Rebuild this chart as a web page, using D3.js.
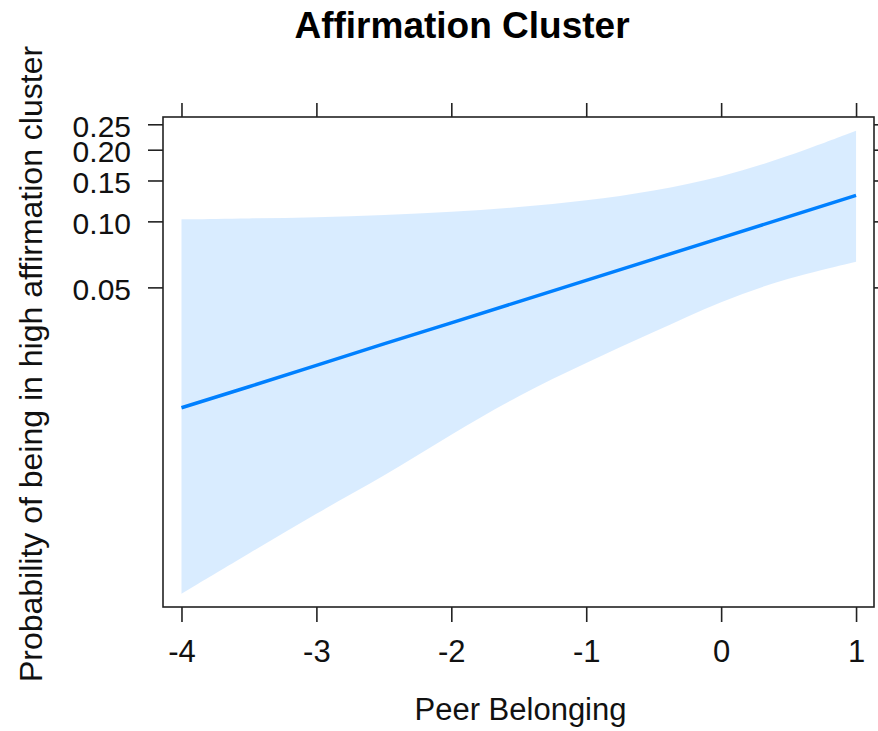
<!DOCTYPE html>
<html lang="en">
<head>
  <meta charset="UTF-8" />
  <title>Affirmation Cluster</title>
  <script src="https://d3js.org/d3.v7.min.js"></script>
  <style>
    html, body {
      margin: 0;
      padding: 0;
      background: #fff;
      overflow: hidden;
    }
    svg {
      display: block;
      font-family: "Liberation Sans", Arial, sans-serif;
    }
    .axis path, .axis line {
      stroke: #222;
      stroke-width: 1.6;
    }
    .axis text {
      font-size: 30px;
      fill: #111;
    }
  </style>
</head>
<body>
<svg width="878" height="731"></svg>

<script>
// values (probability scale, logit axis)
const xVals = [-4, -3.5, -3, -2.5, -2, -1.5, -1, -0.5, 0, 0.5, 1];
const fitVals = [0.0133, 0.0168, 0.0213, 0.0270, 0.0340, 0.0429, 0.0539, 0.0676, 0.0844, 0.1049, 0.1298];
const lowerVals = [0.00164, 0.00258, 0.00407, 0.00615, 0.00988, 0.01530, 0.02198, 0.03071, 0.04325, 0.05553, 0.0657];
const upperVals = [0.1021, 0.1030, 0.1042, 0.1066, 0.1099, 0.1152, 0.1228, 0.1354, 0.1543, 0.1883, 0.2366];

const xTicks = [-4, -3, -2, -1, 0, 1];
const yTicks = [0.05, 0.10, 0.15, 0.20, 0.25];
const yTickLabels = ["0.05", "0.10", "0.15", "0.20", "0.25"];

const xLimits = [-4.137, 1.133];
const yLimits = [0.001411, 0.2658];

const title = "Affirmation Cluster";
const xLabel = "Peer Belonging";
const yLabel = "Probability of being in high affirmation cluster";

const logit = p => Math.log(p / (1 - p));

const box = { left: 163, right: 874, top: 117, bottom: 607 };

const svg = d3.select("svg");

const x = d3.scaleLinear().domain(xLimits).range([box.left, box.right]);
const y = d3.scaleLinear().domain(yLimits.map(logit)).range([box.bottom, box.top]);

const rows = xVals.map((d, i) => ({ x: d, fit: fitVals[i], lo: lowerVals[i], hi: upperVals[i] }));

// confidence band
svg.append("path")
  .datum(rows)
  .attr("fill", "#0080ff")
  .attr("fill-opacity", 0.15)
  .attr("d", d3.area()
    .curve(d3.curveBasis)
    .x(d => x(d.x))
    .y0(d => y(logit(d.lo)))
    .y1(d => y(logit(d.hi))));

// fitted line
svg.append("path")
  .datum(rows)
  .attr("fill", "none")
  .attr("stroke", "#0080ff")
  .attr("stroke-width", 3.5)
  .attr("d", d3.line()
    .x(d => x(d.x))
    .y(d => y(logit(d.fit))));

// axes
svg.append("g")
  .attr("class", "axis")
  .attr("transform", `translate(0,${box.bottom})`)
  .call(d3.axisBottom(x).tickValues(xTicks).tickFormat(d => String(d))
    .tickSize(15).tickPadding(18).tickSizeOuter(0))
  .call(g => g.select(".domain").remove())
  .call(g => g.selectAll("text").style("font-size", "31px"));

svg.append("g")
  .attr("class", "axis")
  .attr("transform", `translate(0,${box.top})`)
  .call(d3.axisTop(x).tickValues(xTicks).tickSize(14).tickFormat("").tickSizeOuter(0))
  .call(g => g.select(".domain").remove());

svg.append("g")
  .attr("class", "axis")
  .attr("transform", `translate(${box.left},0)`)
  .call(d3.axisLeft(y).tickValues(yTicks.map(logit)).tickFormat((d, i) => yTickLabels[i])
    .tickSize(15).tickPadding(17).tickSizeOuter(0))
  .call(g => g.select(".domain").remove())
  .call(g => g.selectAll("text").attr("dy", "0.4em"));

svg.append("g")
  .attr("class", "axis")
  .attr("transform", `translate(${box.right},0)`)
  .call(d3.axisRight(y).tickValues(yTicks.map(logit)).tickFormat("").tickSize(14).tickSizeOuter(0))
  .call(g => g.select(".domain").remove());

// panel border
svg.append("rect")
  .attr("x", box.left)
  .attr("y", box.top)
  .attr("width", box.right - box.left)
  .attr("height", box.bottom - box.top)
  .attr("fill", "none")
  .attr("stroke", "#222")
  .attr("stroke-width", 1.6);

// labels
svg.append("text")
  .attr("x", 462)
  .attr("y", 38)
  .attr("text-anchor", "middle")
  .attr("font-size", 37)
  .attr("font-weight", "bold")
  .attr("fill", "#000")
  .text(title);

svg.append("text")
  .attr("x", (box.left + box.right) / 2 + 2)
  .attr("y", 720)
  .attr("text-anchor", "middle")
  .attr("font-size", 31)
  .attr("fill", "#111")
  .text(xLabel);

svg.append("text")
  .attr("transform", `translate(42,${(box.top + box.bottom) / 2 + 2}) rotate(-90)`)
  .attr("text-anchor", "middle")
  .attr("font-size", 32)
  .attr("fill", "#111")
  .text(yLabel);
</script>
</body>
</html>
